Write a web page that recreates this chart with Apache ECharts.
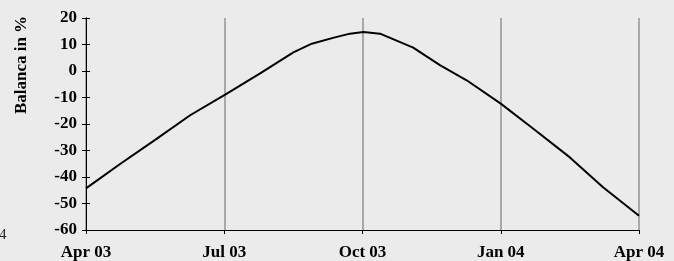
<!DOCTYPE html>
<html><head><meta charset="utf-8">
<script src="https://cdn.jsdelivr.net/npm/echarts@6/dist/echarts.min.js"></script>
<style>html,body{margin:0;padding:0;background:#ebebeb}#c{width:674px;height:261px}</style>
</head><body><div id="c"></div>
<script>
// x positions in months since Apr 2003
const monthsSinceStart = [0, 0.74, 1.5, 2.26, 3.02, 3.77, 4.5, 4.9, 5.38, 5.73, 6.02, 6.38, 7.1, 7.68, 8.26, 9.0, 9.7, 10.5, 11.22, 12];
const balance = [-44.3, -35.1, -26, -16.7, -8.9, -1.0, 7.0, 10.3, 12.6, 14.1, 14.7, 14.1, 8.8, 2.2, -3.5, -12.3, -21.7, -32.6, -43.9, -54.6];
const xTickLabels = {0: 'Apr 03', 3: 'Jul 03', 6: 'Oct 03', 9: 'Jan 04', 12: 'Apr 04'};
const yLabel = 'Balanca in %';

const font = 'Liberation Serif';
const chart = echarts.init(document.getElementById('c'));
const yBase = {
  type: 'value', min: -60, max: 20, interval: 10,
  axisLine: {show: true, lineStyle: {color: '#000', width: 1}},
  splitLine: {show: false}
};
chart.setOption({
  backgroundColor: '#ebebeb',
  animation: false,
  grid: {left: 86, right: 35, top: 18, bottom: 31},
  xAxis: {
    type: 'value', min: 0, max: 12, interval: 3,
    axisLine: {onZero: false, lineStyle: {color: '#000', width: 1}},
    axisTick: {show: true, length: 4, lineStyle: {color: '#000'}},
    axisLabel: {formatter: v => xTickLabels[v] || '', color: '#000', fontFamily: font, fontWeight: 'bold', fontSize: 17, margin: 14},
    splitLine: {show: true, lineStyle: {color: '#a8a8a8', width: 2}}
  },
  yAxis: [
    Object.assign({}, yBase, {
      axisTick: {show: true, length: 4, lineStyle: {color: '#000'}},
      axisLabel: {color: '#000', fontFamily: font, fontWeight: 'bold', fontSize: 17, margin: 9}
    }),
    Object.assign({}, yBase, {
      position: 'left',
      axisTick: {show: true, inside: true, length: 4, lineStyle: {color: '#000'}},
      axisLabel: {show: false}
    })
  ],
  series: [{
    type: 'line', yAxisIndex: 0,
    data: monthsSinceStart.map((m, i) => [m, balance[i]]),
    showSymbol: false, smooth: false,
    lineStyle: {color: '#000', width: 2}
  }],
  graphic: [
    {type: 'text', x: 21.5, y: 65, rotation: Math.PI / 2,
     style: {text: yLabel, fontFamily: font, fontWeight: 'bold', fontSize: 17, fill: '#000', align: 'center', verticalAlign: 'middle'}},
    {type: 'text', x: -1, y: 228,
     style: {text: '4', fontFamily: font, fontSize: 15, fill: '#222', verticalAlign: 'top'}}
  ]
});
</script></body></html>
